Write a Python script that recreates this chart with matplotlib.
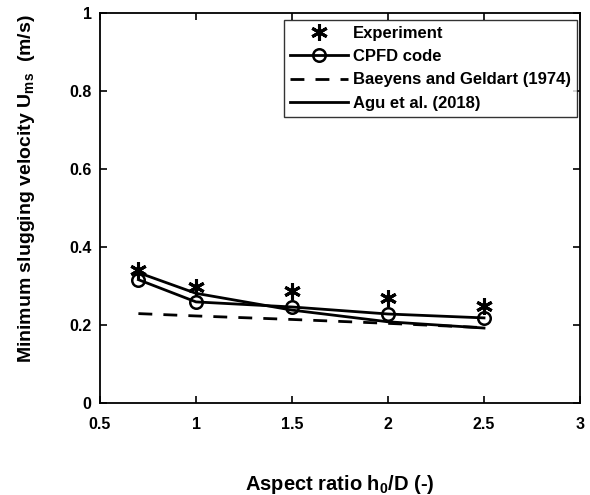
import matplotlib
matplotlib.use("Agg")
import matplotlib.pyplot as plt

plt.rcParams["font.family"] = ["Liberation Sans", "DejaVu Sans"]
plt.rcParams["font.weight"] = "bold"
plt.rcParams["axes.labelweight"] = "bold"
plt.rcParams["mathtext.fontset"] = "custom"
plt.rcParams["mathtext.rm"] = "Liberation Sans:bold"
plt.rcParams["mathtext.bf"] = "Liberation Sans:bold"
plt.rcParams["mathtext.it"] = "Liberation Sans:bold"
plt.rcParams["mathtext.default"] = "bf"

# aspect ratio h0/D
aspect = [0.7, 1.0, 1.5, 2.0, 2.5]
experiment = [0.34, 0.297, 0.287, 0.269, 0.248]
cpfd = [0.316, 0.259, 0.246, 0.228, 0.218]
baeyens = [0.229, 0.223, 0.214, 0.204, 0.193]
agu = [0.334, 0.281, 0.238, 0.208, 0.192]

fig = plt.figure(figsize=(5.9, 4.95), dpi=100)
ax = fig.add_axes([0.1695, 0.186, 0.8136, 0.788])

ax.plot(aspect, experiment, linestyle="none", marker=(6, 2, 0), markersize=12,
        markeredgewidth=2.2, color="black", label="Experiment")
ax.plot(aspect, cpfd, "-o", color="black", linewidth=2, markersize=9,
        markerfacecolor="none", markeredgewidth=1.8, label="CPFD code")
ax.plot(aspect, baeyens, linestyle=(0, (5, 4)), color="black", linewidth=2,
        label="Baeyens and Geldart (1974)")
ax.plot(aspect, agu, "-", color="black", linewidth=2, label="Agu et al. (2018)")

ax.set_xlim(0.5, 3)
ax.set_ylim(0, 1)
ax.set_xticks([0.5, 1, 1.5, 2, 2.5, 3])
ax.set_xticklabels(["0.5", "1", "1.5", "2", "2.5", "3"])
ax.set_yticks([0, 0.2, 0.4, 0.6, 0.8, 1])
ax.set_yticklabels(["0", "0.2", "0.4", "0.6", "0.8", "1"])
ax.tick_params(direction="in", top=True, right=True, labelsize=11.5, width=1.2, length=5)
ax.tick_params(axis="x", pad=10)
ax.tick_params(axis="y", pad=6)
for s in ax.spines.values():
    s.set_linewidth(1.3)

ax.set_xlabel("Aspect ratio h$_0$/D (-)", fontsize=14.5, labelpad=30)
ax.set_ylabel("Minimum slugging velocity U$_{ms}$  (m/s)", fontsize=14)
ax.yaxis.set_label_coords(-0.132, 0.55)

leg = ax.legend(loc="upper right", bbox_to_anchor=(1 - 3 / 480, 1 - 7 / 390),
                borderaxespad=0, fontsize=12, frameon=True, fancybox=False,
                edgecolor="black", handlelength=3.5, labelspacing=0.5,
                borderpad=0.35, handletextpad=0.3)
leg.get_frame().set_linewidth(1.0)

fig.savefig("out.png", dpi=100)
